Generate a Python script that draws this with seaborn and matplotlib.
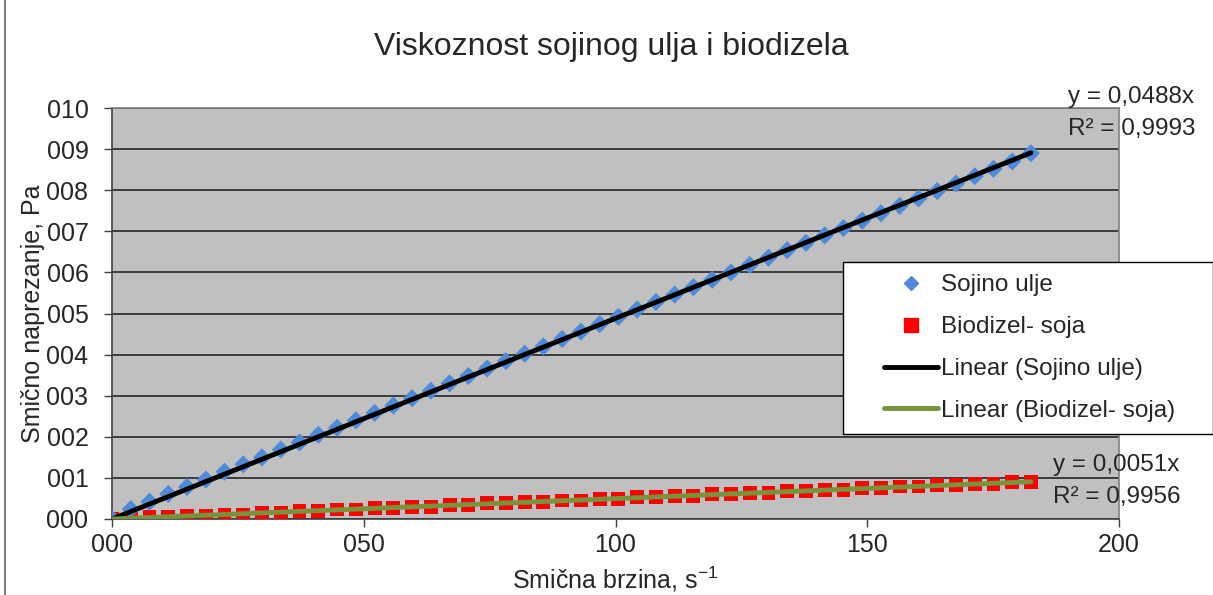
import numpy as np
import pandas as pd
import seaborn as sns
import matplotlib.pyplot as plt
from matplotlib.lines import Line2D
from matplotlib.legend_handler import HandlerLine2D

# shear rate, s^-1 (same for both samples)
shear_rate = [0.00, 3.73, 7.45, 11.18, 14.90, 18.63, 22.35, 26.08, 29.80, 33.53,
              37.25, 40.98, 44.70, 48.43, 52.15, 55.88, 59.60, 63.33, 67.05, 70.78,
              74.50, 78.23, 81.95, 85.68, 89.40, 93.13, 96.85, 100.58, 104.30, 108.03,
              111.75, 115.48, 119.20, 122.93, 126.65, 130.38, 134.10, 137.83, 141.55, 145.28,
              149.00, 152.73, 156.45, 160.18, 163.90, 167.63, 171.35, 175.08, 178.80, 182.50]

# shear stress, Pa
sojino_ulje = [0.00, 0.24, 0.42, 0.61, 0.78, 0.96, 1.15, 1.33, 1.50, 1.69,
               1.86, 2.05, 2.22, 2.40, 2.58, 2.76, 2.94, 3.12, 3.30, 3.48,
               3.66, 3.84, 4.02, 4.20, 4.38, 4.56, 4.74, 4.92, 5.10, 5.28,
               5.46, 5.64, 5.82, 6.00, 6.18, 6.36, 6.54, 6.72, 6.90, 7.08,
               7.26, 7.44, 7.62, 7.80, 7.98, 8.16, 8.34, 8.52, 8.70, 8.90]

biodizel_soja = [0.00, 0.00, 0.04, 0.04, 0.08, 0.08, 0.11, 0.11, 0.15, 0.15,
                 0.19, 0.19, 0.23, 0.23, 0.26, 0.26, 0.30, 0.30, 0.34, 0.34,
                 0.38, 0.38, 0.41, 0.41, 0.45, 0.45, 0.49, 0.49, 0.53, 0.53,
                 0.56, 0.56, 0.60, 0.60, 0.64, 0.64, 0.68, 0.68, 0.71, 0.71,
                 0.75, 0.75, 0.79, 0.79, 0.83, 0.83, 0.86, 0.86, 0.90, 0.91]

x_ticks = [0, 50, 100, 150, 200]
y_ticks = list(range(0, 11))

sns.set_style("white")
plt.rcParams["font.family"] = ["Liberation Sans", "DejaVu Sans"]
plt.rcParams["mathtext.fontset"] = "custom"
plt.rcParams["mathtext.rm"] = "Liberation Sans"

df = pd.DataFrame({"x": shear_rate, "soja": sojino_ulje, "bio": biodizel_soja})

# linear trend through origin
x = df["x"].to_numpy()
k1 = (x * df["soja"]).sum() / (x * x).sum()
k2 = (x * df["bio"]).sum() / (x * x).sum()
trend = pd.DataFrame({"x": [0, x.max()], "soja": [0, k1 * x.max()], "bio": [0, k2 * x.max()]})

W, H = 1213, 595
fig = plt.figure(figsize=(W / 100, H / 100), dpi=100)
ax = fig.add_axes([112 / W, 1 - 519 / H, (1119 - 112) / W, (519 - 108) / H])
ax.set_facecolor("#c0c0c0")

sns.scatterplot(data=df, x="x", y="bio", marker="s", s=100, color="#ff0000",
                edgecolor="none", ax=ax, zorder=3)
sns.scatterplot(data=df, x="x", y="soja", marker="D", s=85, color="#4f8ad8",
                edgecolor="none", ax=ax, zorder=3)
sns.lineplot(data=trend, x="x", y="soja", color="black", linewidth=3.5, ax=ax, zorder=4)
sns.lineplot(data=trend, x="x", y="bio", color="#77933c", linewidth=3.5, ax=ax, zorder=4)

ax.set_xlim(0, 200)
ax.set_ylim(0, 10)
ax.set_xticks(x_ticks)
ax.set_xticklabels([f"{v:03d}" for v in x_ticks])
ax.set_yticks(y_ticks)
ax.set_yticklabels([f"{v:03d}" for v in y_ticks])
ax.tick_params(axis="both", labelsize=18, length=6, width=1, color="#404040",
               direction="out", bottom=True, left=True)
ax.tick_params(axis="y", pad=11)
ax.tick_params(axis="x", pad=4)
ax.yaxis.grid(True, color="#303030", linewidth=1.3)
ax.set_axisbelow(True)
for side in ["left", "bottom"]:
    ax.spines[side].set_color("#404040")
    ax.spines[side].set_linewidth(1.2)
for side in ["top", "right"]:
    ax.spines[side].set_color("#808080")
    ax.spines[side].set_linewidth(1.2)

ax.set_xlabel(r"Smična brzina, s$\mathregular{^{-1}}$", fontsize=18)
ax.xaxis.set_label_coords(0.5, -(565 - 519) / (519 - 108))
ax.set_ylabel("Smično naprezanje, Pa", fontsize=18, labelpad=1)

fig.text(611 / W, 1 - 47 / H, "Viskoznost sojinog ulja i biodizela",
         fontsize=23, ha="center", va="center")

fig.text(1068 / W, 1 - 97 / H, "y = 0,0488x", fontsize=17.5, va="center")
fig.text(1068 / W, 1 - 129 / H, "R² = 0,9993", fontsize=17.5, va="center")
fig.text(1053 / W, 1 - 465 / H, "y = 0,0051x", fontsize=17.5, va="center")
fig.text(1053 / W, 1 - 497 / H, "R² = 0,9956", fontsize=17.5, va="center")

handles = [
    Line2D([], [], linestyle="none", marker="D", markersize=7, color="#4f8ad8"),
    Line2D([], [], linestyle="none", marker="s", markersize=10, color="#ff0000"),
    Line2D([], [], color="black", linewidth=3.5),
    Line2D([], [], color="#77933c", linewidth=3.5),
]
labels = ["Sojino ulje", "Biodizel- soja", "Linear (Sojino ulje)", "Linear (Biodizel- soja)"]
leg = fig.legend(handles, labels, loc="upper left",
                 bbox_to_anchor=(843 / W, 1 - 431 / H, 370 / W, 169 / H), mode="expand",
                 fontsize=17.5, frameon=True, fancybox=False, framealpha=1, edgecolor="black",
                 handlelength=3.4, handletextpad=0.15, labelspacing=0.82, borderpad=0.5,
                 borderaxespad=0, handler_map={Line2D: HandlerLine2D(xpad=1.2)})
leg.get_frame().set_linewidth(1.0)

fig.add_artist(Line2D([5 / W, 5 / W], [0, 1], color="#808080", linewidth=1.5))

fig.savefig("out.png", dpi=100)
plt.close()
